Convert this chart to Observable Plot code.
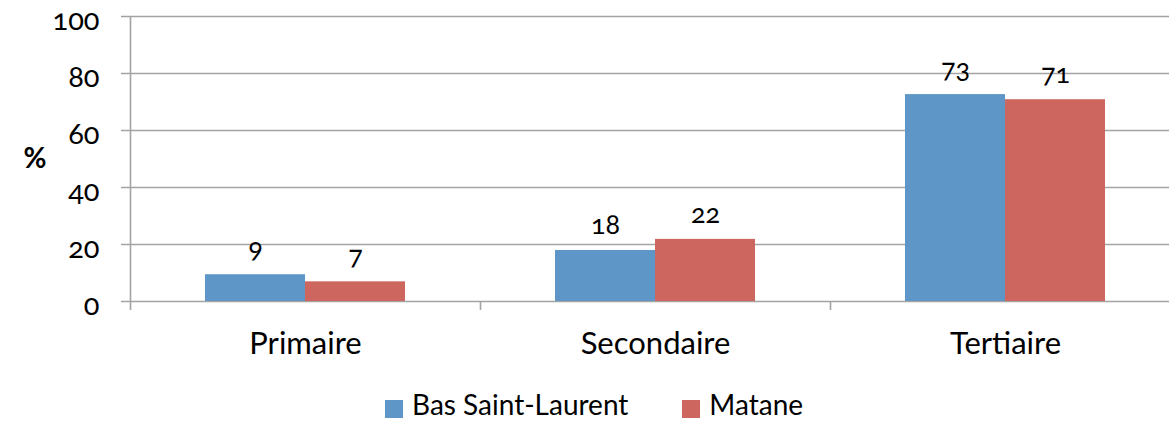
<!DOCTYPE html>
<html><head><meta charset="utf-8">
<script src="https://cdn.jsdelivr.net/npm/d3@7"></script>
<script src="https://cdn.jsdelivr.net/npm/@observablehq/plot@0.6"></script>
<style>
html,body{margin:0;padding:0;background:#fff;overflow:hidden;width:1169px;height:423px;position:relative;}
#chart{width:1180px;}
#chart svg{display:block;max-width:none !important;width:1180px;height:370px;}
#chart svg text{font-variant-numeric:oldstyle-nums;font-feature-settings:"onum" 1;}
#legend{position:absolute;left:385px;top:388px;display:flex;align-items:flex-start;font-family:Lato,sans-serif;font-size:28px;line-height:1.2;color:#000;white-space:nowrap;}
.sw{width:18px;height:18px;display:inline-block;margin-right:9px;margin-top:12px;flex:none;}
.item{display:flex;align-items:flex-start;margin-right:54px;}
</style></head><body><div id="chart"></div><div id="legend"></div>
<script>
const categories = ["Primaire", "Secondaire", "Tertiaire"];
const seriesNames = ["Bas Saint-Laurent", "Matane"];
const basSaintLaurent = [9.4, 17.9, 72.6];
const matane = [6.9, 21.8, 70.8];
const basSaintLaurentLabels = ["9", "18", "73"];
const mataneLabels = ["7", "22", "71"];
const yTicks = [0, 20, 40, 60, 80, 100];
const yLabel = "%";
const colors = ["#5f96c8", "#cd665f"];

const gridColor = "#a3a3a3";
const rowsA = categories.map((c, i) => ({category: c, series: seriesNames[0], value: basSaintLaurent[i], label: basSaintLaurentLabels[i]}));
const rowsB = categories.map((c, i) => ({category: c, series: seriesNames[1], value: matane[i], label: mataneLabels[i]}));

const chart = Plot.plot({
  width: 1180,
  height: 370,
  marginLeft: 130,
  marginRight: 0,
  marginTop: 16,
  marginBottom: 69,
  style: {fontFamily: "Lato, sans-serif", color: "#000", background: "#fff", maxWidth: "none"},
  x: {type: "band", domain: categories, padding: 0},
  y: {domain: [0, 100]},
  marks: [
    Plot.ruleY(yTicks, {stroke: gridColor, strokeWidth: 1.6, insetLeft: -9}),
    Plot.ruleX([categories[0]], {dx: -175, stroke: gridColor, strokeWidth: 1.6}),
    Plot.axisX({tickSize: 9, dx: -175, tickFormat: () => "", stroke: gridColor, strokeWidth: 1.6, label: null}),
    Plot.barY(rowsA, {x: "category", y: "value", fill: colors[0], insetLeft: 75, insetRight: 175}),
    Plot.barY(rowsB, {x: "category", y: "value", fill: colors[1], insetLeft: 175, insetRight: 75}),
    Plot.text(rowsA, {x: "category", y: "value", text: "label", dx: -50, dy: -25, fontSize: 27, fill: "#000"}),
    Plot.text(rowsB, {x: "category", y: "value", text: "label", dx: 50, dy: -25, fontSize: 27, fill: "#000"}),
    Plot.axisX({tickSize: 0, tickPadding: 30, fontSize: 31, label: null}),
    Plot.axisY({ticks: yTicks, tickSize: 0, tickPadding: 31, fontSize: 29, label: null, dy: 4}),
    Plot.text([yLabel], {frameAnchor: "left", dx: -107, fontSize: 28, fontWeight: "bold", fill: "#000"})
  ]
});
document.getElementById("chart").append(chart);

const legend = document.getElementById("legend");
seriesNames.forEach((name, i) => {
  const item = document.createElement("span");
  item.className = "item";
  const sw = document.createElement("span");
  sw.className = "sw";
  sw.style.background = colors[i];
  item.append(sw, document.createTextNode(name));
  legend.append(item);
});
</script></body></html>
